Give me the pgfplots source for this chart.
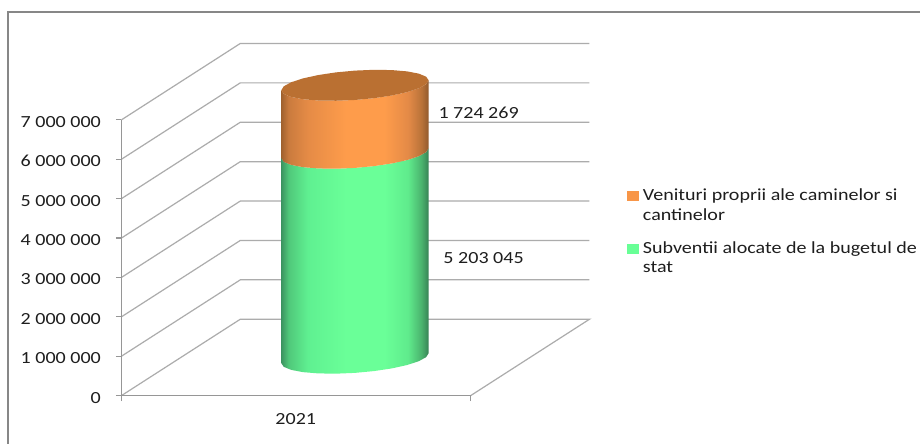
\documentclass[border=0pt]{standalone}
\usepackage{fontspec}
\setmainfont{Carlito}[FakeStretch=1.18]
\usepackage{pgfplots}
\pgfplotsset{compat=1.18}
\definecolor{gridc}{RGB}{172,172,172}
\definecolor{axisc}{RGB}{150,150,150}
\definecolor{frmc}{RGB}{135,135,135}
\definecolor{orangeL}{RGB}{248,150,72}
\definecolor{greenL}{RGB}{104,255,150}
\definecolor{capc}{RGB}{186,112,50}
\definecolor{txtc}{RGB}{30,30,30}
\pgfdeclarehorizontalshading{cylgreen}{100bp}{
 rgb(0bp)=(0.235,0.580,0.376);
 rgb(25bp)=(0.235,0.580,0.376);
 rgb(27.5bp)=(0.314,0.784,0.478);
 rgb(34bp)=(0.373,0.941,0.569);
 rgb(47bp)=(0.416,1,0.596);
 rgb(60bp)=(0.416,1,0.596);
 rgb(68bp)=(0.373,0.922,0.549);
 rgb(72.5bp)=(0.294,0.706,0.431);
 rgb(75bp)=(0.216,0.510,0.333);
 rgb(100bp)=(0.216,0.510,0.333)}
\pgfdeclarehorizontalshading{cylorange}{100bp}{
 rgb(0bp)=(0.627,0.380,0.180);
 rgb(25bp)=(0.627,0.380,0.180);
 rgb(27.5bp)=(0.792,0.482,0.243);
 rgb(34bp)=(0.898,0.545,0.275);
 rgb(47bp)=(0.996,0.612,0.294);
 rgb(60bp)=(0.996,0.612,0.294);
 rgb(68bp)=(0.894,0.541,0.278);
 rgb(72.5bp)=(0.729,0.451,0.224);
 rgb(75bp)=(0.569,0.353,0.176);
 rgb(100bp)=(0.569,0.353,0.176)}
\begin{document}
\begin{tikzpicture}[x=1pt,y=1pt]
\path[fill=white] (0,0) rectangle (921,444);
\draw[frmc,line width=1.6pt] (8.2,0) -- (8.2,432) -- (921,432);
\begin{axis}[
 at={(121.5pt,48pt)},anchor=south west,scale only axis,
 width=468.5pt,height=352.5pt,
 xmin=121.5,xmax=590,ymin=0,ymax=8940000,
 clip=false,
 scaled y ticks=false,
 axis x line*=bottom,axis y line*=left,
 axis line style={draw=none},
 xtick={121.5,471},xticklabels={,},
 ytick={0,1000000,2000000,3000000,4000000,5000000,6000000,7000000},
 yticklabels={0,1 000 000,2 000 000,3 000 000,4 000 000,5 000 000,6 000 000,7 000 000},
 extra x ticks={296},extra x tick labels={2021},
 extra x tick style={major tick length=0pt,tick label style={yshift=-14pt}},
 major tick length=5.5pt,
 tick align=outside,
 tick style={axisc,line width=1.2pt},
 tick label style={font=\fontsize{17}{17}\selectfont,text=txtc},
 yticklabel style={xshift=-11.5pt,yshift=-2pt},
 every tick/.style={axisc,line width=1.2pt},
 legend cell align=left,
 legend style={draw=none,fill=none,
   at={(1.0801,0.5930)},anchor=north west,font=\fontsize{17}{19.7}\selectfont,text=txtc,
   cells={align=left},row sep=15.5pt,inner sep=0pt,outer sep=0pt,
   /tikz/every odd column/.style={column sep=2pt}},
 legend image code/.code={\fill[#1] (0pt,4pt) rectangle (12pt,14pt);},
]
% walls and floor
\addplot[gridc,line width=1.2pt,forget plot] coordinates {(121.5,0) (240.5,1940000) (590,1940000) (471,0)};
\addplot[gridc,line width=1.2pt,forget plot] coordinates {(121.5,1000000) (240.5,2940000) (590,2940000)};
\addplot[gridc,line width=1.2pt,forget plot] coordinates {(121.5,2000000) (240.5,3940000) (590,3940000)};
\addplot[gridc,line width=1.2pt,forget plot] coordinates {(121.5,3000000) (240.5,4940000) (590,4940000)};
\addplot[gridc,line width=1.2pt,forget plot] coordinates {(121.5,4000000) (240.5,5940000) (590,5940000)};
\addplot[gridc,line width=1.2pt,forget plot] coordinates {(121.5,5000000) (240.5,6940000) (590,6940000)};
\addplot[gridc,line width=1.2pt,forget plot] coordinates {(121.5,6000000) (240.5,7940000) (590,7940000)};
\addplot[gridc,line width=1.2pt,forget plot] coordinates {(121.5,7000000) (240.5,8940000) (590,8940000)};
\addplot[axisc,line width=1.5pt,forget plot] coordinates {(121.5,7000000) (121.5,0) (471,0)};
% green part: 5 203 045
\addplot[draw=none,shading=cylgreen,forget plot] coordinates {
(429,1077810) (426.5,977010) (419.1,874420) (407.4,777060) (392.1,691555) (374.3,623730)
(355.25,578200) (336.2,558090) (318.4,564745) (303.1,597720) (291.4,654780) (284,732030) (281.5,824190)
(281.5,6027235) (284,5935075) (291.4,5857825) (303.1,5800765) (318.4,5767790) (336.2,5761135)
(355.25,5781245) (374.3,5826775) (392.1,5894600) (407.4,5980105) (419.1,6077465) (426.5,6180055) (429,6280855)
} -- cycle;
% orange part: 1 724 269
\addplot[draw=none,shading=cylorange,forget plot] coordinates {
(281.5,6027235) (284,5935075) (291.4,5857825) (303.1,5800765) (318.4,5767790) (336.2,5761135)
(355.25,5781245) (374.3,5826775) (392.1,5894600) (407.4,5980105) (419.1,6077465) (426.5,6180055) (429,6280855)
(429,8005124) (426.5,7904324) (419.1,7801734) (407.4,7704374) (392.1,7618869) (374.3,7551044)
(355.25,7505514) (336.2,7485404) (318.4,7492059) (303.1,7525034) (291.4,7582094) (284,7659344) (281.5,7751504)
} -- cycle;
% top of the stack
\addplot[draw=none,fill=capc,forget plot] coordinates {
(429,8005124) (426.5,7904324) (419.1,7801734) (407.4,7704374) (392.1,7618869) (374.3,7551044)
(355.25,7505514) (336.2,7485404) (318.4,7492059) (303.1,7525034) (291.4,7582094) (284,7659344) (281.5,7751504)
(284,7852304) (291.4,7954894) (303.1,8052254) (318.4,8137759) (336.2,8205584) (355.25,8251114)
(374.3,8271224) (392.1,8264569) (407.4,8231594) (419.1,8174534) (426.5,8097284)
} -- cycle;
\addlegendimage{fill=orangeL,draw=none}
\addlegendentry{Venituri proprii ale caminelor si\\cantinelor}
\addlegendimage{fill=greenL,draw=none}
\addlegendentry{Subventii alocate de la bugetul de\\stat}
\node[font=\fontsize{17}{17}\selectfont,text=txtc,inner sep=0pt] at (axis cs:479,7170000) {1 724 269};
\node[font=\fontsize{17}{17}\selectfont,text=txtc,inner sep=0pt] at (axis cs:484,3500000) {5 203 045};
\end{axis}
\end{tikzpicture}
\end{document}
